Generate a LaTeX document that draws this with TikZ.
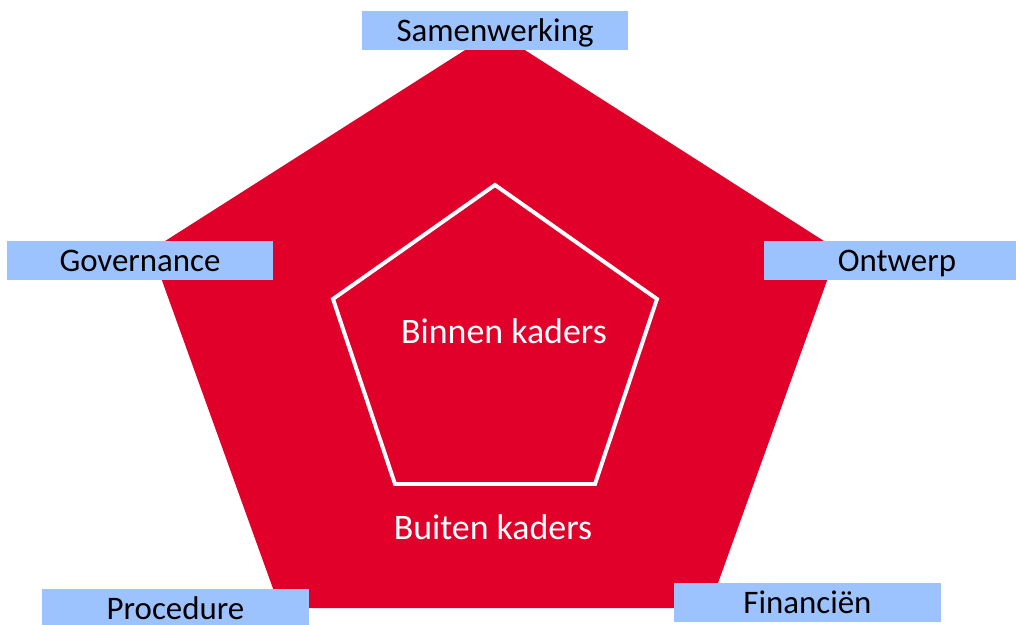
\documentclass[tikz,border=0pt]{standalone}
\usepackage{fontspec}
\setmainfont{Carlito}
\definecolor{kaderrood}{RGB}{224,0,42}
\definecolor{labelblauw}{RGB}{157,195,255}

\begin{document}
\begin{tikzpicture}[x=0.025cm,y=-0.025cm,
  thema/.style={fill=labelblauw,draw=none,minimum width=6.65cm,minimum height=0.975cm,
    inner sep=0pt,text height=15pt,text depth=0pt,font=\fontsize{23.4}{28}\selectfont},
  kadertekst/.style={text=white,inner sep=0pt,font=\fontsize{25.5}{30}\selectfont}]
\useasboundingbox (0,0) rectangle (1016,624);
% buitenste vijfhoek
\fill[kaderrood] (495,31) -- (838,250) -- (709,608) -- (280,608) -- (151,250) -- cycle;
% binnenste vijfhoek
\draw[white,line width=2.8pt] (495,185) -- (657,299) -- (595,484) -- (395,484) -- (333,299) -- cycle;
\node[kadertekst] (binnen) at (504,331) {Binnen kaders};
\node[kadertekst] (buiten) at (493,527) {Buiten kaders};
% thema's
\node[thema] (samenwerking) at (495,30.5) {Samenwerking};
\node[thema] (governance) at (140,260.5) {Governance};
\node[thema] (ontwerp) at (897,260.5) {Ontwerp};
\node[thema] (procedure) at (175.5,608.5) {Procedure};
\node[thema] (financien) at (807.5,602.5) {Financiën};
\end{tikzpicture}
\end{document}
